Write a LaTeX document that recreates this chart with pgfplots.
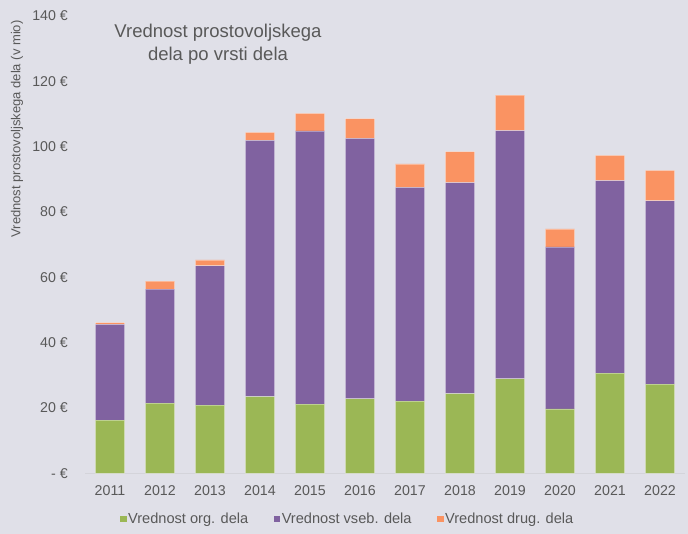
\documentclass[border=0pt]{standalone}
\usepackage{pgfplots}
\pgfplotsset{compat=1.18}
\usepackage{fontspec}
\setmainfont{Liberation Sans}
\definecolor{bg}{RGB}{224,224,232}
\definecolor{cgreen}{RGB}{155,183,85}
\definecolor{cpurple}{RGB}{128,98,160}
\definecolor{corange}{RGB}{250,147,98}
\definecolor{txt}{RGB}{89,89,89}
\definecolor{base}{RGB}{212,212,218}
\begin{document}
\begin{tikzpicture}[x=1pt,y=1pt]
\useasboundingbox (0,0) rectangle (688,534);
\fill[bg] (0,0) rectangle (688,534);
\begin{axis}[
  at={(85pt,60.7pt)}, anchor=south west,
  scale only axis, width=600pt, height=457.3pt,
  ybar stacked, bar width=29.4pt,
  xmin=-0.5, xmax=11.5, ymin=0, ymax=140,
  xtick={0,...,11},
  xticklabels={2011,2012,2013,2014,2015,2016,2017,2018,2019,2020,2021,2022},
  ytick={0,20,40,60,80,100,120,140},
  yticklabels={- €,20 €,40 €,60 €,80 €,100 €,120 €,140 €},
  major tick length=0pt,
  axis x line*=bottom, axis y line*=left,
  x axis line style={draw=base, line width=1pt},
  y axis line style={draw=none},
  xticklabel style={font=\fontsize{14.2}{16}\selectfont, text=txt, anchor=base, inner sep=0pt, yshift=-22.4pt},
  yticklabel style={font=\fontsize{14.2}{16}\selectfont, text=txt, anchor=east, inner sep=0pt, xshift=-17pt},
  legend style={at={(0.4375,-0.1)}, anchor=center, draw=none, fill=none,
    font=\fontsize{14.6}{16}\selectfont, text=txt, legend columns=3,
    /tikz/every even column/.append style={column sep=24pt},
    nodes={inner sep=1.5pt}},
  legend image code/.code={\fill[#1,draw=none] (0pt,-3.2pt) rectangle (6.5pt,3.3pt);},
  every axis plot/.append style={draw=white, draw opacity=0.35, line width=0.8pt},
]
\addplot[fill=cgreen] coordinates {(0,16.3) (1,21.5) (2,20.9) (3,23.5) (4,21.2) (5,22.8) (6,22.1) (7,24.4) (8,28.9) (9,19.7) (10,30.7) (11,27.3)};
\addplot[fill=cpurple] coordinates {(0,29.3) (1,34.9) (2,42.6) (3,78.4) (4,83.6) (5,79.7) (6,65.4) (7,64.6) (8,76.0) (9,49.6) (10,58.9) (11,56.1)};
\addplot[fill=corange] coordinates {(0,0.5) (1,2.4) (2,1.8) (3,2.5) (4,5.4) (5,6.1) (6,7.2) (7,9.5) (8,10.9) (9,5.5) (10,7.7) (11,9.3)};
\legend{Vrednost org. dela, Vrednost vseb. dela, Vrednost drug. dela}
\end{axis}
\node[rotate=90, text=txt, font=\fontsize{13}{15}\selectfont, inner sep=0pt] at (17,405) {Vrednost prostovoljskega dela (v mio)};
\node[text=txt, font=\fontsize{18.5}{22.5}\selectfont, align=center, inner sep=0pt] at (218,490) {Vrednost prostovoljskega\\dela po vrsti dela};
\end{tikzpicture}
\end{document}
